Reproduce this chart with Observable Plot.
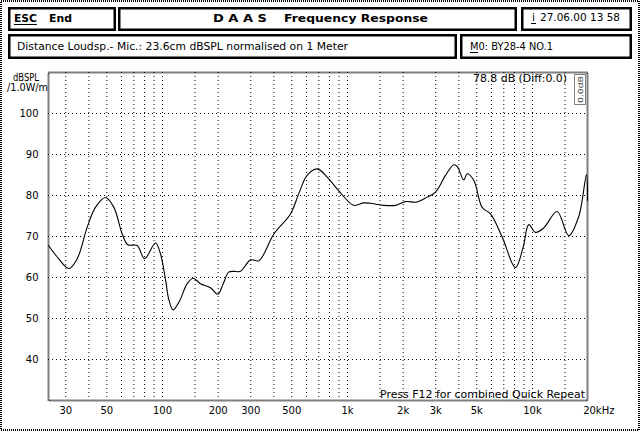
<!DOCTYPE html>
<html><head><meta charset="utf-8">
<script src="https://cdn.jsdelivr.net/npm/d3@7"></script>
<script src="https://cdn.jsdelivr.net/npm/@observablehq/plot@0.6"></script>
<style>
html,body{margin:0;padding:0;background:#fff;}
#chart{width:640px;height:431px;}
svg{display:block;}
</style></head><body><div id="chart"></div>
<script>
// Frequency (Hz) and SPL (dB)
const freq = [24.2, 27, 31.2, 34.6, 39.2, 43.4, 49.2, 54.6, 60.6, 64.9, 73, 80, 91.7, 97.5, 104, 108, 114, 124, 136, 146.6, 160.5, 181.7, 199, 213, 228, 243, 264, 299, 332, 400, 492, 545, 605, 686, 777, 898, 1082, 1225, 1331, 1571, 1817, 2058, 2381, 2697, 2990, 3386, 3755, 3917, 4253, 4436, 4817, 5346, 5930, 6858, 8091, 8908, 9550, 10380, 11510, 13600, 15710, 17800, 19590, 19840];
const spl  = [67.8, 65.0, 62.2, 64.6, 72.3, 77.1, 79.5, 77.1, 70.6, 68.0, 67.8, 64.6, 68.4, 65.8, 59.3, 54.8, 52.1, 54.4, 58.5, 59.8, 58.5, 57.5, 55.9, 58.5, 61.3, 61.5, 61.5, 64.3, 64.1, 70.6, 75.5, 80.4, 84.9, 86.5, 84.5, 81.1, 77.6, 78.2, 78.1, 77.6, 77.6, 78.5, 78.4, 79.6, 80.8, 84.9, 87.5, 87.1, 83.8, 85.3, 83.7, 77.1, 75.5, 69.9, 62.4, 67.4, 72.9, 71.0, 72.1, 76.1, 70.2, 74.9, 85.1, 78.8];

const yTicks = [40, 50, 60, 70, 80, 90, 100];
const xTickValues = [30, 50, 100, 200, 300, 500, 1000, 2000, 3000, 5000, 10000, 20000];
const xTickLabels = ["30", "50", "100", "200", "300", "500", "1k", "2k", "3k", "5k", "10k", "20kHz"];
const xGrid = [30, 40, 50, 60, 70, 80, 90, 100, 150, 200, 300, 400, 500, 600, 700, 800, 900, 1000, 1500, 2000, 3000, 4000, 5000, 6000, 7000, 8000, 9000, 10000, 15000];
const yGrid = [40, 50, 60, 70, 80, 90, 100];

const data = freq.map((f, i) => ({f, db: spl[i]}));
const ticks = xTickValues.map((v, i) => ({v, label: xTickLabels[i]}));
const font = "'DejaVu Sans', sans-serif";

const chart = Plot.plot({
  width: 640, height: 431,
  marginTop: 72, marginBottom: 31, marginLeft: 48, marginRight: 53,
  style: {fontFamily: font, fontSize: "10px", background: "#fff", color: "#000", overflow: "visible"},
  x: {type: "log", domain: [24.2, 19840], axis: null},
  y: {domain: [30, 110], axis: null},
  marks: [
    Plot.ruleX(xGrid, {stroke: "#000", strokeWidth: 1, strokeDasharray: "1,3"}),
    Plot.ruleY(yGrid, {stroke: "#000", strokeWidth: 1, strokeDasharray: "1,3"}),
    Plot.frame({stroke: "#000", strokeWidth: 2, strokeDasharray: "1,1"}),
    Plot.line(data, {x: "f", y: "db", stroke: "#000", strokeWidth: 1.1, curve: "catmull-rom"}),
    Plot.text(yTicks, {x: 24.2, y: d => d, text: d => String(d), textAnchor: "end", dx: -10, lineAnchor: "middle", fontSize: 10}),
    Plot.text(ticks.filter(d => d.v < 20000), {x: "v", y: 30, text: "label", dy: 10, lineAnchor: "middle", textAnchor: "middle", fontSize: 10}),
    Plot.text(ticks.filter(d => d.v >= 20000), {x: "v", y: 30, text: "label", dy: 10, dx: -5, lineAnchor: "middle", textAnchor: "start", fontSize: 10})
  ]
});
document.getElementById("chart").appendChild(chart);

// Decorations (header boxes, annotations)
const svg = d3.select(chart);
const g = svg.append("g").attr("font-family", font).attr("fill", "#000").attr("text-anchor", "start");
// outer window border
g.append("rect").attr("x", 1).attr("y", 1).attr("width", 638).attr("height", 429)
  .attr("fill", "none").attr("stroke", "#000").attr("stroke-width", 2).attr("stroke-dasharray", "1,1");
function box(x0, y0, x1, y1) {
  g.append("rect").attr("x", x0 + 1.25).attr("y", y0 + 1.25).attr("width", x1 - x0 - 2.5).attr("height", y1 - y0 - 2.5)
    .attr("fill", "none").attr("stroke", "#000").attr("stroke-width", 2.5);
}
box(8, 7, 116, 31);
box(118, 7, 517, 31);
box(521, 7, 632, 31);
box(8, 34, 457, 59);
box(460, 34, 632, 59);
function txt(s, x, y, len, opts = {}) {
  const t = g.append("text").attr("x", x).attr("y", y).text(s)
    .attr("text-anchor", "start")
    .attr("font-size", opts.size || 10).attr("font-weight", opts.bold ? "bold" : "normal");
  if (len) t.attr("textLength", len).attr("lengthAdjust", "spacingAndGlyphs");
  return t;
}
function uline(x0, x1, y) {
  g.append("line").attr("x1", x0).attr("x2", x1).attr("y1", y).attr("y2", y).attr("stroke", "#000").attr("stroke-width", 1);
}
txt("ESC", 14, 22, 23, {bold: true, size: 11}); uline(14, 37, 24.5);
txt("End", 49, 22, 23, {bold: true, size: 11});
txt("D A A S", 213, 22, 54, {bold: true, size: 11});
txt("Frequency Response", 284, 22, 144, {bold: true, size: 11});
txt("i", 532, 21, 3); uline(531, 536, 23.5);
txt("27.06.00 13 58", 540, 21, 80);
txt("Distance Loudsp.- Mic.: 23.6cm dBSPL normalised on 1 Meter", 17, 50, 331);
txt("M0: BY28-4 NO.1", 470, 50, 83); uline(470, 478, 52.5);
txt("dBSPL", 13, 81, 26);
txt("/1.0W/m", 7, 91, 41);
txt("78.8 dB (Diff:0.0)", 473, 82, 94);
txt("Press F12 for combined Quick Repeat", 380, 398, 205);
// small side indicator box
g.append("rect").attr("x", 574.5).attr("y", 74.5).attr("width", 11).attr("height", 30)
  .attr("fill", "none").attr("stroke", "#000").attr("stroke-width", 1).attr("stroke-dasharray", "1,1");
g.append("text").attr("transform", "translate(583,103) rotate(-90)").attr("font-size", 7).attr("text-anchor", "start")
  .attr("textLength", 27).attr("lengthAdjust", "spacingAndGlyphs").attr("fill", "#444").text("0.0dB");
</script></body></html>
